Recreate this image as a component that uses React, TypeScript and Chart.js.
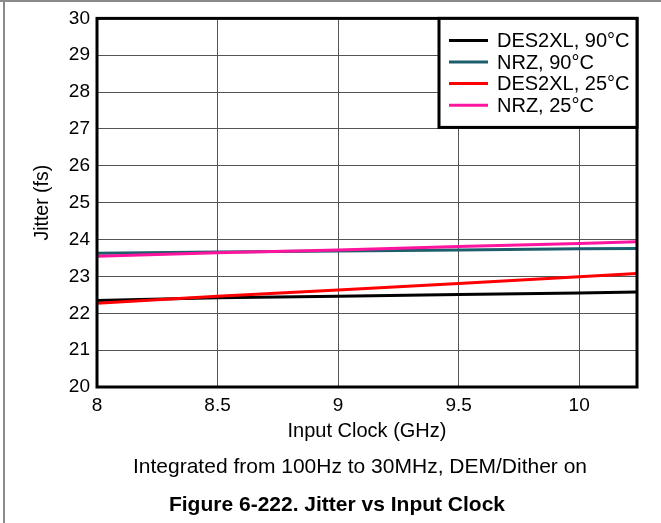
import React, { useEffect, useRef } from "react";
import { Chart, registerables } from "chart.js";

Chart.register(...registerables);

// ---- data ----
const X_VALUES = [8, 8.5, 9, 9.5, 10, 10.24];
const DES2XL_90C = [22.35, 22.42, 22.46, 22.51, 22.55, 22.58];
const NRZ_90C = [23.63, 23.66, 23.69, 23.72, 23.75, 23.76];
const DES2XL_25C = [22.27, 22.46, 22.63, 22.81, 22.99, 23.08];
const NRZ_25C = [23.55, 23.64, 23.72, 23.81, 23.89, 23.94];

const SERIES_LABELS = ["DES2XL, 90°C", "NRZ, 90°C", "DES2XL, 25°C", "NRZ, 25°C"];
const SERIES_COLORS = ["#000000", "#1d5e6c", "#ff0000", "#ff14a0"];

const X_TICKS = [8, 8.5, 9, 9.5, 10];
const Y_TICKS = [20, 21, 22, 23, 24, 25, 26, 27, 28, 29, 30];
const X_MIN = 8;
const X_MAX = 10.24;
const Y_MIN = 20;
const Y_MAX = 30;

const X_TITLE = "Input Clock (GHz)";
const Y_TITLE = "Jitter (fs)";
const NOTE = "Integrated from 100Hz to 30MHz, DEM/Dither on";
const CAPTION = "Figure 6-222. Jitter vs Input Clock";

const FONT = "'Liberation Sans', Arial, Helvetica, sans-serif";

const toPoints = (ys: number[]) => X_VALUES.map((x, i) => ({ x, y: ys[i] }));

const decorPlugin = {
  id: "decor",
  beforeDraw(chart: any) {
    const { ctx, width, height } = chart;
    ctx.save();
    ctx.fillStyle = "#ffffff";
    ctx.fillRect(0, 0, width, height);
    ctx.fillStyle = "#8a8a8a";
    ctx.fillRect(0, 0, width, 2);
    ctx.fillRect(3, 0, 2, height);
    ctx.restore();
  },
  afterDraw(chart: any) {
    const { ctx, chartArea } = chart;
    const { left, top, right, bottom } = chartArea;
    ctx.save();
    // frame
    ctx.strokeStyle = "#000";
    ctx.lineWidth = 3;
    ctx.strokeRect(left, top, right - left, bottom - top);

    // legend box
    const lx = 439;
    const lh = 109;
    ctx.fillStyle = "#fff";
    ctx.fillRect(lx, top, right - lx, lh);
    ctx.strokeRect(lx, top, right - lx, lh);
    ctx.font = `20px ${FONT}`;
    ctx.textBaseline = "middle";
    ctx.textAlign = "left";
    chart.data.datasets.forEach((ds: any, i: number) => {
      const y = top + 22 + i * 21.6;
      ctx.strokeStyle = ds.borderColor;
      ctx.lineWidth = 3;
      ctx.beginPath();
      ctx.moveTo(449, y);
      ctx.lineTo(488, y);
      ctx.stroke();
      ctx.fillStyle = "#000";
      ctx.fillText(ds.label, 497, y + 1);
    });

    // note and caption
    ctx.fillStyle = "#000";
    ctx.textAlign = "center";
    ctx.font = `21px ${FONT}`;
    ctx.fillText(NOTE, 360, 467);
    ctx.font = `bold 21px ${FONT}`;
    ctx.fillText(CAPTION, 337, 505);
    ctx.restore();
  },
};

export default function App() {
  const canvasRef = useRef<HTMLCanvasElement | null>(null);

  useEffect(() => {
    if (!canvasRef.current) return;
    const seriesData = [DES2XL_90C, NRZ_90C, DES2XL_25C, NRZ_25C];
    const chart = new Chart(canvasRef.current, {
      type: "line",
      data: {
        datasets: seriesData.map((ys, i) => ({
          label: SERIES_LABELS[i],
          data: toPoints(ys),
          borderColor: SERIES_COLORS[i],
          backgroundColor: SERIES_COLORS[i],
          borderWidth: 3,
          pointRadius: 0,
          tension: 0,
          fill: false,
          order: 4 - i,
        })),
      },
      options: {
        animation: false,
        responsive: true,
        maintainAspectRatio: false,
        layout: { padding: { left: 0, top: 18, right: 24, bottom: 0 } },
        plugins: {
          legend: { display: false },
          tooltip: { enabled: false },
          title: { display: false },
        },
        scales: {
          x: {
            type: "linear",
            min: X_MIN,
            max: X_MAX,
            afterBuildTicks: (s: any) => {
              s.ticks = X_TICKS.map((v) => ({ value: v }));
            },
            afterFit: (s: any) => {
              s.height = 136;
            },
            grid: { color: "#555", lineWidth: 1, drawTicks: false },
            border: { display: false },
            ticks: {
              autoSkip: false,
              maxRotation: 0,
              padding: 7,
              color: "#000",
              font: { family: FONT, size: 19 },
              callback: (v: any) => String(v),
            },
            title: {
              display: true,
              text: X_TITLE,
              color: "#000",
              font: { family: FONT, size: 20 },
              padding: { top: 0, bottom: 80 },
            },
          },
          y: {
            type: "linear",
            min: Y_MIN,
            max: Y_MAX,
            afterBuildTicks: (s: any) => {
              s.ticks = Y_TICKS.map((v) => ({ value: v }));
            },
            afterFit: (s: any) => {
              s.width = 97;
            },
            grid: { color: "#555", lineWidth: 1, drawTicks: false },
            border: { display: false },
            ticks: {
              autoSkip: false,
              padding: 7,
              color: "#000",
              font: { family: FONT, size: 19 },
            },
            title: {
              display: true,
              text: Y_TITLE,
              color: "#000",
              font: { family: FONT, size: 19.5 },
              padding: { top: 31, bottom: 0 },
            },
          },
        },
      },
      plugins: [decorPlugin],
    });
    return () => chart.destroy();
  }, []);

  return (
    <div style={{ position: "fixed", left: 0, top: 0, width: 661, height: 523 }}>
      <canvas ref={canvasRef} />
    </div>
  );
}
